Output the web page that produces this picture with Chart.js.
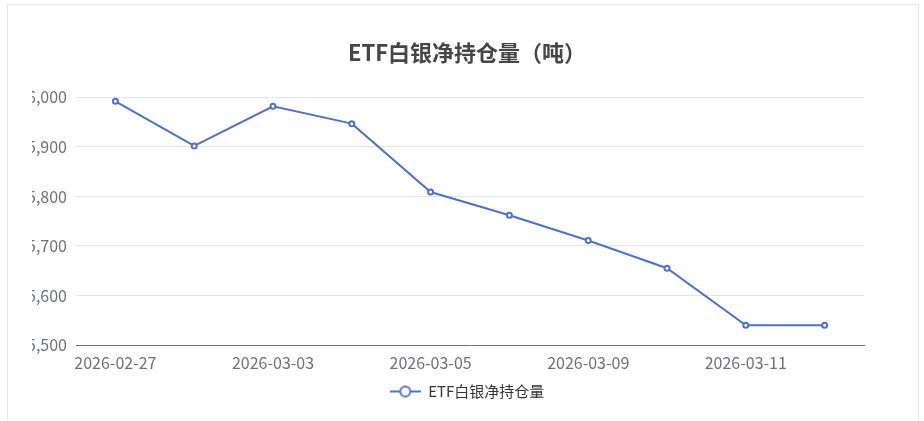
<!DOCTYPE html>
<html>
<head>
<meta charset="utf-8">
<script src="https://cdn.jsdelivr.net/npm/chart.js@4/dist/chart.umd.min.js"></script>
<style>
  html, body { margin: 0; padding: 0; background: #fff; width: 924px; height: 421px; overflow: hidden; }
  .frame { position: absolute; left: 7px; top: 4px; width: 910px; height: 500px; border: 1px solid #e6e6e6; }
  .wrap { position: absolute; left: 0; top: 0; width: 902px; height: 421px; }
</style>
</head>
<body>
<div class="frame"></div>
<div class="wrap"><canvas id="chart"></canvas></div>
<script>
const dates = ['2026-02-27', '2026-03-02', '2026-03-03', '2026-03-04', '2026-03-05',
               '2026-03-06', '2026-03-09', '2026-03-10', '2026-03-11', '2026-03-12'];
const holdings = [15992, 15902, 15982, 15947, 15809, 15762, 15711, 15655, 15540, 15540];
const seriesName = 'ETF白银净持仓量';
const chartTitle = 'ETF白银净持仓量（吨）';

const FONT = '"Noto Sans CJK SC", "Noto Sans", sans-serif';
const BLUE = '#5470c6';

// legend icon: short line with a hollow circle in the middle
function makeLegendIcon() {
    const c = document.createElement('canvas');
    c.width = 31; c.height = 14;
    const ctx = c.getContext('2d');
    ctx.strokeStyle = BLUE;
    ctx.lineWidth = 2;
    ctx.beginPath();
    ctx.moveTo(0, 7); ctx.lineTo(31, 7);
    ctx.stroke();
    ctx.beginPath();
    ctx.arc(15.5, 7, 5, 0, Math.PI * 2);
    ctx.fillStyle = '#fff';
    ctx.fill();
    ctx.stroke();
    return c;
}
const legendIcon = makeLegendIcon();

new Chart(document.getElementById('chart'), {
    type: 'line',
    data: {
        labels: dates,
        datasets: [{
            label: seriesName,
            data: holdings,
            borderColor: BLUE,
            backgroundColor: BLUE,
            borderWidth: 2,
            tension: 0,
            pointRadius: 2.5,
            pointBorderWidth: 2,
            pointBackgroundColor: '#fff',
            pointBorderColor: BLUE
        }]
    },
    options: {
        responsive: true,
        maintainAspectRatio: false,
        animation: false,
        // left padding clips the leading digits of the y labels, like the original
        layout: { padding: { left: 32, right: 0, top: 0, bottom: 12 } },
        plugins: {
            title: {
                display: true,
                text: chartTitle,
                color: '#464646',
                font: { family: FONT, size: 22, weight: 'bold', lineHeight: 1.2 },
                padding: { top: 39, bottom: 32 }
            },
            legend: {
                position: 'bottom',
                labels: {
                    usePointStyle: true,
                    pointStyleWidth: 31,
                    color: '#333',
                    font: { family: FONT, size: 15 },
                    padding: 10,
                    generateLabels(chart) {
                        const items = Chart.defaults.plugins.legend.labels.generateLabels(chart);
                        items.forEach(it => { it.pointStyle = legendIcon; });
                        return items;
                    }
                }
            },
            tooltip: { enabled: false }
        },
        scales: {
            x: {
                offset: true,
                afterFit(scale) { scale.height = 29; },
                grid: { display: false, drawTicks: false },
                border: { display: true, color: '#6e7079', width: 1 },
                ticks: {
                    autoSkip: false,
                    maxRotation: 0,
                    padding: 8,
                    color: '#6e7079',
                    font: { family: FONT, size: 16 },
                    callback(val, i) { return i % 2 === 0 ? this.getLabelForValue(val) : ''; }
                }
            },
            y: {
                min: 15500,
                max: 16000,
                afterFit(scale) { scale.width = 44; },
                grid: { color: '#e0e6f1', drawTicks: false },
                border: { display: false },
                ticks: {
                    stepSize: 100,
                    padding: 9,
                    color: '#6e7079',
                    font: { family: FONT, size: 16 },
                    callback(v) { return v.toLocaleString('en-US'); }
                }
            },
            // empty right-hand spacer so the title and legend centre like the original
            spacer: {
                type: 'linear',
                position: 'right',
                afterFit(scale) { scale.width = 38; },
                grid: { display: false, drawTicks: false },
                border: { display: false },
                ticks: { display: false }
            }
        }
    }
});
</script>
</body>
</html>
